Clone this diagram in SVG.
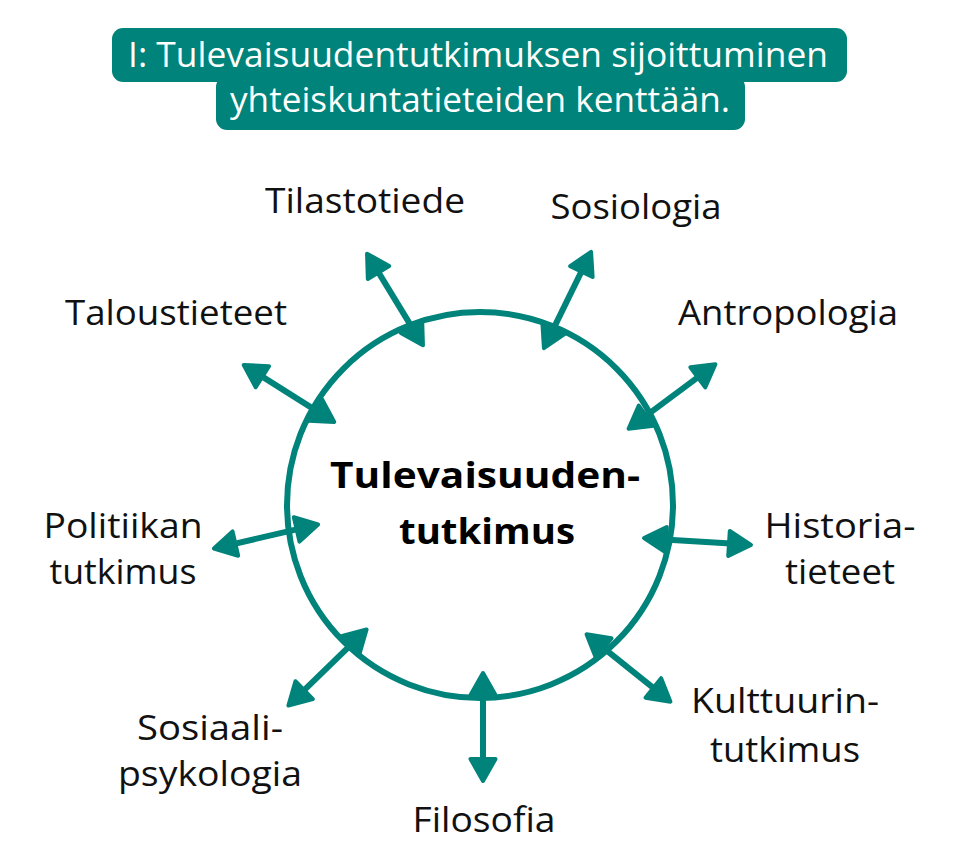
<svg xmlns="http://www.w3.org/2000/svg" width="965" height="863" viewBox="0 0 965 863">
<style>
.lbl{font-family:"Open Sans","Noto Sans","Liberation Sans",sans-serif;font-size:34px;fill:#111;text-anchor:middle}
.ttl{font-family:"Open Sans","Noto Sans","Liberation Sans",sans-serif;font-size:35px;fill:#fff;text-anchor:middle}
.ctr{font-family:"Open Sans","Noto Sans","Liberation Sans",sans-serif;font-size:36px;font-weight:bold;fill:#000;text-anchor:middle}
.arr{stroke:#00837A;stroke-width:6;fill:none;marker-start:url(#ah);marker-end:url(#ah)}
</style>
<defs>
<marker id="ah" markerUnits="userSpaceOnUse" viewBox="-4 -17 34 34" markerWidth="34" markerHeight="34" refX="10" refY="0" orient="auto-start-reverse" overflow="visible">
<path d="M0,-12.5 L22,0 L0,12.5 Z" fill="#00837A" stroke="#00837A" stroke-width="4" stroke-linejoin="round"/>
</marker>
</defs>
<rect width="965" height="863" fill="#fff"/>
<g id="title">
<rect x="112" y="28" width="735" height="54" rx="11" fill="#00837A"/>
<rect x="216" y="76" width="529" height="54" rx="11" fill="#00837A"/>
<text class="ttl" x="478" y="67" textLength="700" lengthAdjust="spacingAndGlyphs">I: Tulevaisuudentutkimuksen sijoittuminen</text>
<text class="ttl" x="480" y="112" textLength="500" lengthAdjust="spacingAndGlyphs">yhteiskuntatieteiden kenttään.</text>
</g>
<g id="center">
<circle cx="480" cy="505" r="193" fill="none" stroke="#00837A" stroke-width="6"/>
<text class="ctr" x="485" y="488" textLength="310" lengthAdjust="spacingAndGlyphs">Tulevaisuuden-</text>
<text class="ctr" x="487" y="544" textLength="176" lengthAdjust="spacingAndGlyphs">tutkimus</text>
</g>
<g id="connectors">
<line class="arr" x1="373.3" y1="263.9" x2="416.7" y2="335.1"/>
<line class="arr" x1="253.9" y1="371.4" x2="324.1" y2="415.6"/>
<line class="arr" x1="585.8" y1="262.6" x2="549.2" y2="337.4"/>
<line class="arr" x1="705.8" y1="371.4" x2="638.2" y2="421.6"/>
<line class="arr" x1="225.6" y1="545.8" x2="306.4" y2="527.2"/>
<line class="arr" x1="739" y1="544.1" x2="656" y2="538.9"/>
<line class="arr" x1="297" y1="697.2" x2="358" y2="637.8"/>
<line class="arr" x1="483" y1="769" x2="483" y2="685"/>
<line class="arr" x1="661.1" y1="694.2" x2="595.9" y2="641.8"/>
</g>
<g id="n-tilastotiede"><text class="lbl" x="365" y="213" textLength="200" lengthAdjust="spacingAndGlyphs">Tilastotiede</text></g>
<g id="n-sosiologia"><text class="lbl" x="636" y="219" textLength="171" lengthAdjust="spacingAndGlyphs">Sosiologia</text></g>
<g id="n-taloustieteet"><text class="lbl" x="176" y="325" textLength="222" lengthAdjust="spacingAndGlyphs">Taloustieteet</text></g>
<g id="n-antropologia"><text class="lbl" x="788" y="325" textLength="220" lengthAdjust="spacingAndGlyphs">Antropologia</text></g>
<g id="n-politiikan">
<text class="lbl" x="123" y="538" textLength="159" lengthAdjust="spacingAndGlyphs">Politiikan</text>
<text class="lbl" x="123" y="584" textLength="147" lengthAdjust="spacingAndGlyphs">tutkimus</text>
</g>
<g id="n-historia">
<text class="lbl" x="840" y="538" textLength="151" lengthAdjust="spacingAndGlyphs">Historia-</text>
<text class="lbl" x="840" y="584" textLength="110" lengthAdjust="spacingAndGlyphs">tieteet</text>
</g>
<g id="n-sosiaali">
<text class="lbl" x="210" y="740" textLength="146" lengthAdjust="spacingAndGlyphs">Sosiaali-</text>
<text class="lbl" x="210" y="786" textLength="184" lengthAdjust="spacingAndGlyphs">psykologia</text>
</g>
<g id="n-kulttuurin">
<text class="lbl" x="785" y="713" textLength="188" lengthAdjust="spacingAndGlyphs">Kulttuurin-</text>
<text class="lbl" x="785" y="762" textLength="150" lengthAdjust="spacingAndGlyphs">tutkimus</text>
</g>
<g id="n-filosofia"><text class="lbl" x="484" y="832" textLength="143" lengthAdjust="spacingAndGlyphs">Filosofia</text></g>
</svg>
